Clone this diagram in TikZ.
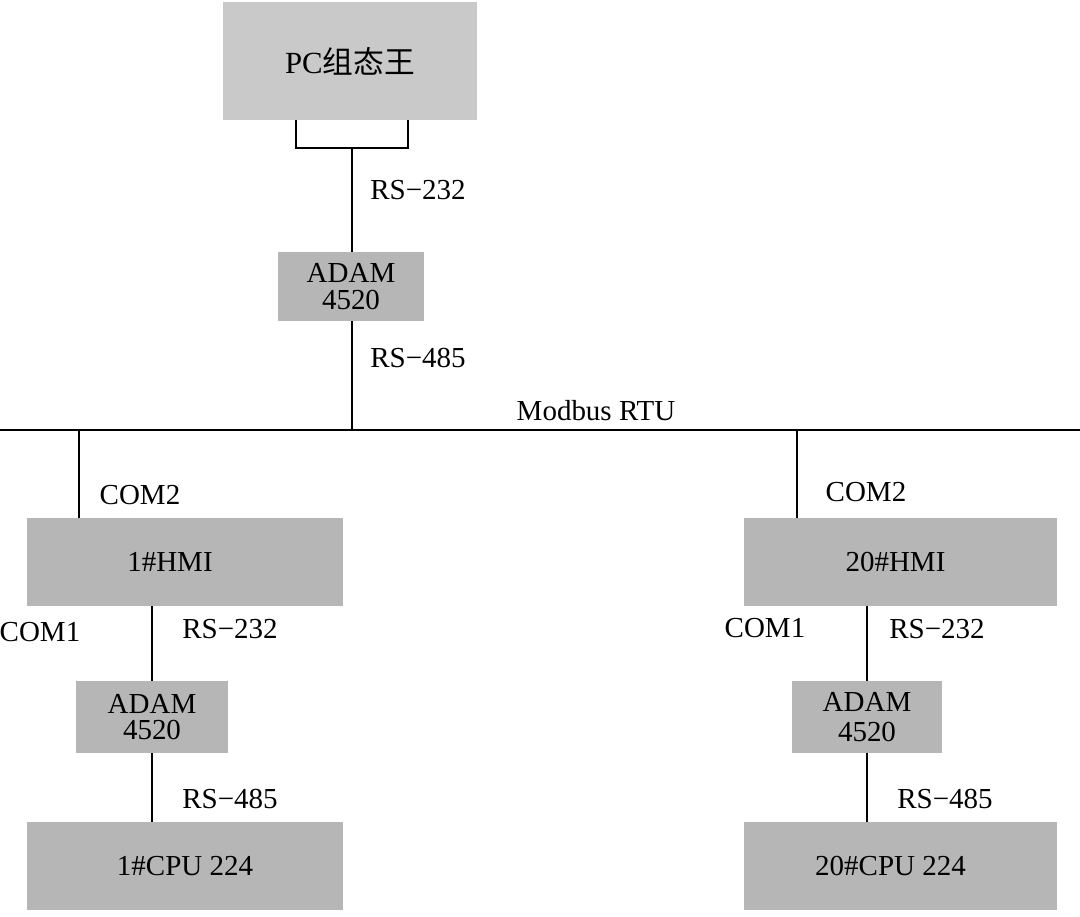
\documentclass[tikz,border=0pt]{standalone}
\usepackage{fontspec}
\setmainfont{Liberation Serif}
\newfontfamily\cjk{Noto Sans CJK SC}
\usetikzlibrary{positioning, calc}
\definecolor{pcgray}{HTML}{C9C9C9}
\definecolor{boxgray}{HTML}{B6B6B6}

\tikzset{
  devbox/.style={fill=boxgray, inner sep=0pt, align=center, font=\fontsize{16.5}{15}\selectfont},
  wire/.style={black, line width=0.75pt},
  lbl/.style={font=\fontsize{16.5}{18}\selectfont, inner sep=0pt}
}

\begin{document}
\begin{tikzpicture}[x=0.02cm, y=-0.02cm]

% Background
\fill[white] (0,0) rectangle (1080,917);
\useasboundingbox (0,0) rectangle (1080,917);

% Top: PC and converter
\node[devbox, fill=pcgray, minimum width=5.08cm, minimum height=2.36cm, font=\fontsize{17.5}{18}\selectfont] (pc) at (350,61) {PC{\cjk 组态王}};
\node[devbox, minimum width=2.94cm, minimum height=1.38cm] (adam0) at (351,286.5) {ADAM\\4520};

% Port bracket under the PC
\coordinate (portL) at (296,120);
\coordinate (portR) at (408,120);
\coordinate (port) at (352,148);
\draw[wire] (portL) |- (port) -| (portR);
\draw[wire] (port) -- (port |- adam0.north);
\node[lbl] (rs0a) at (418,190) {RS−232};

% Bus
\coordinate (busL) at (0,430);
\coordinate (busR) at (1080,430);
\draw[wire, line width=1pt] (busL) -- (busR);
\draw[wire] (adam0.south -| port) -- (port |- busL);
\node[lbl] (rs0b) at (418,358) {RS−485};
\node[lbl] (modbus) at (596,411) {Modbus RTU};

% Station 1
\node[devbox, minimum width=6.32cm, minimum height=1.76cm] (hmi1) at (185,562) {\hspace*{-0.6cm}1\#HMI};
\node[devbox, minimum width=3.06cm, minimum height=1.44cm] (adam1) at (152,717) {ADAM\\4520};
\node[devbox, minimum width=6.32cm, minimum height=1.76cm] (cpu1) at (185,866) {1\#CPU 224};
\coordinate (tap1) at (79,430);
\draw[wire] (tap1) -- (tap1 |- hmi1.north);
\draw[wire] (hmi1.south -| adam1) -- (adam1.north);
\draw[wire] (adam1.south) -- (adam1 |- cpu1.north);
\node[lbl] (com21) at (140,495) {COM2};
\node[lbl] (com11) at (40,632) {COM1};
\node[lbl] (rs1a) at (230,629) {RS−232};
\node[lbl] (rs1b) at (230,799) {RS−485};

% Station 20
\node[devbox, minimum width=6.26cm, minimum height=1.76cm] (hmi20) at (900.5,562) {\hspace*{-0.2cm}20\#HMI};
\node[devbox, minimum width=3.02cm, minimum height=1.44cm] (adam20) at (867,717) {ADAM\\[2pt]4520};
\node[devbox, minimum width=6.26cm, minimum height=1.76cm] (cpu20) at (900.5,866) {\hspace*{-0.4cm}20\#CPU 224};
\coordinate (tap20) at (797,430);
\draw[wire] (tap20) -- (tap20 |- hmi20.north);
\draw[wire] (hmi20.south -| adam20) -- (adam20.north);
\draw[wire] (adam20.south) -- (adam20 |- cpu20.north);
\node[lbl] (com220) at (866,492) {COM2};
\node[lbl] (com120) at (765,628) {COM1};
\node[lbl] (rs20a) at (937,629) {RS−232};
\node[lbl] (rs20b) at (945,799) {RS−485};

\end{tikzpicture}
\end{document}
